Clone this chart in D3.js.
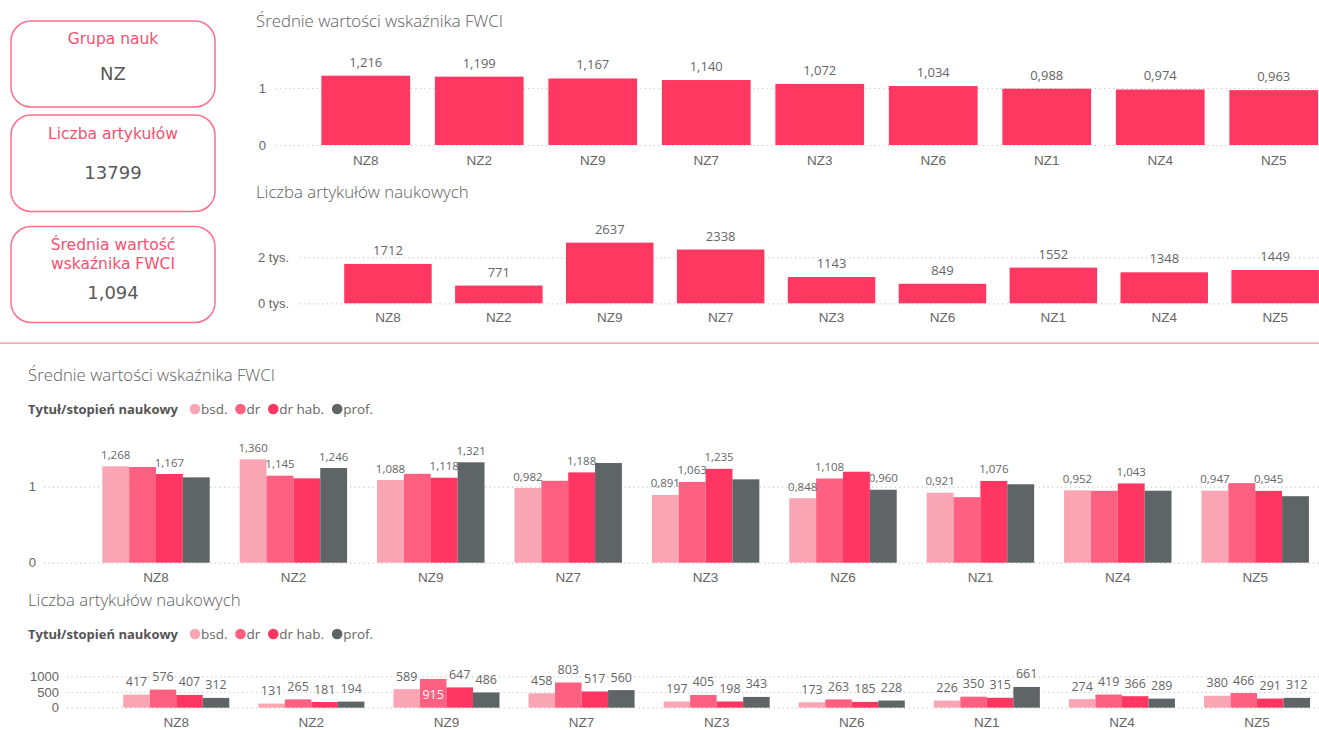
<!DOCTYPE html>
<html lang="pl">
<head>
<meta charset="utf-8">
<script src="https://cdn.jsdelivr.net/npm/d3@7"></script>
<style>
  html, body { margin: 0; padding: 0; background: #ffffff; }
  svg { display: block; }
  .ui { font-family: "Segoe UI", "Open Sans", sans-serif; }
  .card { font-family: "DejaVu Sans", Verdana, sans-serif; }
</style>
</head>
<body>
<svg id="chart" width="1319" height="730"></svg>
<script>
// ---- data ----
const categories = ["NZ8", "NZ2", "NZ9", "NZ7", "NZ3", "NZ6", "NZ1", "NZ4", "NZ5"];
const fwciMean = [1.216, 1.199, 1.167, 1.140, 1.072, 1.034, 0.988, 0.974, 0.963];
const articleCount = [1712, 771, 2637, 2338, 1143, 849, 1552, 1348, 1449];

const degrees = ["bsd.", "dr", "dr hab.", "prof."];
const degreeColors = ["#faa5b3", "#fd6081", "#ff3661", "#5f6566"];

// FWCI per degree (NZ8 ... NZ5)
const fwciBsd   = [1.268, 1.360, 1.088, 0.982, 0.891, 0.848, 0.921, 0.952, 0.947];
const fwciDr    = [1.259, 1.145, 1.169, 1.078, 1.063, 1.108, 0.862, 0.946, 1.047];
const fwciDrHab = [1.167, 1.110, 1.118, 1.188, 1.235, 1.197, 1.076, 1.043, 0.945];
const fwciProf  = [1.123, 1.246, 1.321, 1.312, 1.097, 0.960, 1.032, 0.947, 0.875];
// which FWCI value labels are shown
const fwciShowBsd   = [true, true, true, true, true, true, true, true, true];
const fwciShowDr    = [false, true, false, false, true, true, false, false, false];
const fwciShowDrHab = [true, false, true, true, true, false, true, true, true];
const fwciShowProf  = [false, true, true, false, false, true, false, false, false];

// article counts per degree
const countBsd   = [417, 131, 589, 458, 197, 173, 226, 274, 380];
const countDr    = [576, 265, 915, 803, 405, 263, 350, 419, 466];
const countDrHab = [407, 181, 647, 517, 198, 185, 315, 366, 291];
const countProf  = [312, 194, 486, 560, 343, 228, 661, 289, 312];
// value labels drawn inside the bar
const countInside = [["NZ9", "dr"]];

// KPI cards
const cardTitles = [["Grupa nauk"], ["Liczba artykułów"], ["Średnia wartość", "wskaźnika FWCI"]];
const cardValues = ["NZ", "13799", "1,094"];

// axis ticks
const fwciTicks = [0, 1];
const countTicks = [0, 2000];
const countTickLabels = ["0 tys.", "2 tys."];
const groupCountTicks = [0, 500, 1000];

const locale = d3.formatLocale({ decimal: ",", thousands: " ", grouping: [3], currency: ["", " zł"] });
const fmt3 = locale.format(".3f");
const fmtInt = locale.format("d");

const svg = d3.select("#chart");
const TEXT = "#666666";
const GRID = "#c9c9c9";

// ---- KPI cards ----
const cardBoxes = [[21, 107], [115, 211.5], [226.5, 322.5]];
const cardG = svg.append("g").attr("class", "card");
cardBoxes.forEach(([y0, y1]) => {
  cardG.append("rect")
    .attr("x", 11).attr("y", y0).attr("width", 204).attr("height", y1 - y0)
    .attr("rx", 20).attr("ry", 20)
    .attr("fill", "#fff").attr("stroke", "#ff6e8a").attr("stroke-width", 1.5);
});
const titleBase = [[44], [138.5], [250, 269]];
const valueBase = [80, 179, 298.5];
cardTitles.forEach((lines, i) => {
  lines.forEach((t, j) => {
    cardG.append("text").attr("x", 113).attr("y", titleBase[i][j])
      .attr("text-anchor", "middle").attr("font-size", 15.5).attr("fill", "#f5506f").text(t);
  });
  cardG.append("text").attr("x", 113).attr("y", valueBase[i])
    .attr("text-anchor", "middle").attr("font-size", 18).attr("fill", "#595959").text(cardValues[i]);
});

// separator between the two sections
svg.append("rect").attr("x", 0).attr("y", 342.5).attr("width", 1319).attr("height", 1.3)
  .attr("fill", "#f58da1");

// ---- helpers ----
function yAxisWithGrid(g, y, ticks, labels, xLabel, gx0, gx1, fs) {
  const ax = d3.axisLeft(y).tickValues(ticks).tickSize(0).tickPadding(0)
    .tickFormat((d, i) => labels ? labels[i] : d);
  const a = g.append("g").attr("transform", `translate(${xLabel},0)`).call(ax);
  a.select(".domain").remove();
  a.selectAll("text").attr("fill", TEXT).attr("font-size", fs)
    .attr("font-family", null);
  g.append("g").selectAll("line").data(ticks).join("line")
    .attr("x1", gx0).attr("x2", gx1).attr("y1", d => y(d) + 0.5).attr("y2", d => y(d) + 0.5)
    .attr("stroke", GRID).attr("stroke-width", 1.2).attr("stroke-dasharray", "1.2,3.3");
}

function xAxis(g, x, yZero, pad, fs) {
  const a = g.append("g").attr("transform", `translate(0,${yZero})`)
    .call(d3.axisBottom(x).tickSize(0).tickPadding(pad));
  a.select(".domain").remove();
  a.selectAll("text").attr("fill", TEXT).attr("font-size", fs).attr("font-family", null);
}

function title(g, x, y, t) {
  g.append("text").attr("x", x).attr("y", y).attr("font-size", 16.8)
    .attr("fill", "#5e5e5e").attr("font-weight", 300).text(t);
}

function legend(g, x, y) {
  const lg = g.append("g").attr("transform", `translate(${x},${y})`);
  const head = lg.append("text").attr("x", 0).attr("y", 0).attr("font-size", 13)
    .attr("font-weight", 700).attr("fill", "#555").text("Tytuł/stopień naukowy");
  let cx = head.node().getComputedTextLength() + 12;
  degrees.forEach((d, i) => {
    lg.append("circle").attr("cx", cx + 5).attr("cy", -4.5).attr("r", 5.3).attr("fill", degreeColors[i]);
    const t = lg.append("text").attr("x", cx + 11).attr("y", 0).attr("font-size", 13.5)
      .attr("fill", TEXT).text(d);
    cx += 11 + t.node().getComputedTextLength() + 8;
  });
}

const ui = svg.append("g").attr("class", "ui");

// ---- chart 1: mean FWCI ----
{
  const g = ui.append("g");
  title(g, 256, 27, "Średnie wartości wskaźnika FWCI");
  const x = d3.scaleBand().domain(categories).range([309, 1330.5]).paddingInner(0.218).paddingOuter(0.109);
  const y = d3.scaleLinear().domain([0, 1]).range([145, 88]);
  yAxisWithGrid(g, y, fwciTicks, null, 266, 276, 1319, 13);
  g.append("g").selectAll("rect").data(categories).join("rect")
    .attr("x", d => x(d)).attr("width", x.bandwidth())
    .attr("y", (d, i) => y(fwciMean[i])).attr("height", (d, i) => y(0) - y(fwciMean[i]))
    .attr("fill", "#ff3862");
  g.append("g").selectAll("text").data(categories).join("text")
    .attr("x", d => x(d) + x.bandwidth() / 2).attr("y", (d, i) => y(fwciMean[i]) - 9)
    .attr("text-anchor", "middle").attr("font-size", 13).attr("fill", TEXT)
    .text((d, i) => fmt3(fwciMean[i]));
  xAxis(g, x, y(0), 10.5, 13.5);
}

// ---- chart 2: article counts ----
{
  const g = ui.append("g");
  title(g, 256, 198, "Liczba artykułów naukowych");
  const x = d3.scaleBand().domain(categories).range([332.5, 1330.6]).paddingInner(0.211).paddingOuter(0.1055);
  const y = d3.scaleLinear().domain([0, 2000]).range([303.3, 257.3]);
  yAxisWithGrid(g, y, countTicks, countTickLabels, 289, 300, 1319, 13);
  g.append("g").selectAll("rect").data(categories).join("rect")
    .attr("x", d => x(d)).attr("width", x.bandwidth())
    .attr("y", (d, i) => y(articleCount[i])).attr("height", (d, i) => y(0) - y(articleCount[i]))
    .attr("fill", "#ff3862");
  g.append("g").selectAll("text").data(categories).join("text")
    .attr("x", d => x(d) + x.bandwidth() / 2).attr("y", (d, i) => y(articleCount[i]) - 9)
    .attr("text-anchor", "middle").attr("font-size", 13).attr("fill", TEXT)
    .text((d, i) => fmtInt(articleCount[i]));
  xAxis(g, x, y(0), 9.5, 13.5);
}

// ---- chart 3: FWCI by degree ----
{
  const g = ui.append("g");
  title(g, 28, 381, "Średnie wartości wskaźnika FWCI");
  legend(g, 28, 413.5);
  const series = [fwciBsd, fwciDr, fwciDrHab, fwciProf];
  const shown = [fwciShowBsd, fwciShowDr, fwciShowDrHab, fwciShowProf];
  const x = d3.scaleBand().domain(categories).range([87.3, 1323.9]).paddingInner(0.218).paddingOuter(0.109);
  const xs = d3.scaleBand().domain(degrees).range([0, x.bandwidth()]);
  const y = d3.scaleLinear().domain([0, 1]).range([562.7, 486.7]);
  yAxisWithGrid(g, y, fwciTicks, null, 36, 44, 1319, 13);
  const rows = [];
  categories.forEach((c, i) => degrees.forEach((d, k) => rows.push({ c, d, k, v: series[k][i], show: shown[k][i] })));
  g.append("g").selectAll("rect").data(rows).join("rect")
    .attr("x", r => x(r.c) + xs(r.d)).attr("width", xs.bandwidth())
    .attr("y", r => y(r.v)).attr("height", r => y(0) - y(r.v))
    .attr("fill", r => degreeColors[r.k]);
  g.append("g").selectAll("text").data(rows.filter(r => r.show)).join("text")
    .attr("x", r => x(r.c) + xs(r.d) + xs.bandwidth() / 2).attr("y", r => y(r.v) - 7.5)
    .attr("text-anchor", "middle").attr("font-size", 11.5).attr("fill", TEXT)
    .text(r => fmt3(r.v));
  xAxis(g, x, y(0), 10, 13.5);
}

// ---- chart 4: article counts by degree ----
{
  const g = ui.append("g");
  title(g, 28, 606, "Liczba artykułów naukowych");
  legend(g, 28, 638.5);
  const series = [countBsd, countDr, countDrHab, countProf];
  const x = d3.scaleBand().domain(categories).range([108.7, 1324.6]).paddingInner(0.215).paddingOuter(0.1075);
  const xs = d3.scaleBand().domain(degrees).range([0, x.bandwidth()]);
  const y = d3.scaleLinear().domain([0, 1000]).range([707.7, 676.3]);
  yAxisWithGrid(g, y, groupCountTicks, null, 59, 67, 1319, 13);
  const rows = [];
  categories.forEach((c, i) => degrees.forEach((d, k) => rows.push({
    c, d, k, v: series[k][i],
    inside: countInside.some(p => p[0] === c && p[1] === d)
  })));
  g.append("g").selectAll("rect").data(rows).join("rect")
    .attr("x", r => x(r.c) + xs(r.d)).attr("width", xs.bandwidth())
    .attr("y", r => y(r.v)).attr("height", r => y(0) - y(r.v))
    .attr("fill", r => degreeColors[r.k]);
  g.append("g").selectAll("text").data(rows).join("text")
    .attr("x", r => x(r.c) + xs(r.d) + xs.bandwidth() / 2)
    .attr("y", r => r.inside ? (y(r.v) + y(0)) / 2 + 6 : y(r.v) - 8.5)
    .attr("text-anchor", "middle").attr("font-size", 12.5)
    .attr("fill", r => r.inside ? "#ffffff" : TEXT)
    .text(r => fmtInt(r.v));
  xAxis(g, x, y(0), 10, 13.5);
}
</script>
</body>
</html>
